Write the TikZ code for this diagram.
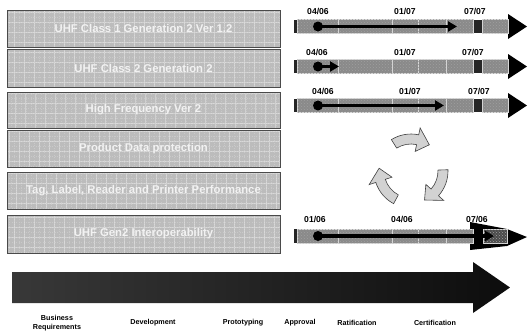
\documentclass[tikz,border=0pt]{standalone}
\usepackage{fontspec}
\setmainfont{Liberation Sans}
\usetikzlibrary{arrows.meta,patterns}
\definecolor{boxfill}{HTML}{BCBCBC}
\definecolor{boxline}{HTML}{4A4A4A}
\definecolor{boxtext}{HTML}{F2F2F2}
\definecolor{segfill}{HTML}{8A8A8A}
\definecolor{segline}{HTML}{D8D8D8}
\definecolor{bardark}{HTML}{262626}
\definecolor{cycfill}{HTML}{D2D2D2}
\tikzset{
  stdbox/.style={draw=boxline, line width=0.9pt, fill=boxfill, minimum width=273pt,
    minimum height=37pt, inner sep=0pt, text=boxtext,
    font=\fontsize{11.3}{13}\selectfont\bfseries,
    path picture={\draw[white, opacity=0.3, line width=0.5pt]
      ([shift={(-10pt,-10pt)}]path picture bounding box.south west) grid[step=10pt]
      ([shift={(10pt,10pt)}]path picture bounding box.north east);
      \draw[white, opacity=0.2, line width=0.4pt, dotted]
      ([shift={(-5pt,-5pt)}]path picture bounding box.south west) grid[step=5pt]
      ([shift={(10pt,10pt)}]path picture bounding box.north east);}},
  datelbl/.style={font=\fontsize{8.6}{10}\selectfont\bfseries, inner sep=0pt},
  steplbl/.style={font=\fontsize{7.2}{8.4}\selectfont\bfseries, inner sep=0pt, align=center},
  seg/.style={draw=segline, line width=0.6pt, fill=segfill},
  segdots/.style={pattern=crosshatch dots, pattern color=gray!75},
  dotmark/.style={circle, fill=black, minimum size=10pt, inner sep=0pt},
  progress/.style={line width=3.6pt, -{Triangle[length=9pt,width=10pt]}},
  cycarrow/.style={draw=black!75, line width=0.6pt, fill=cycfill},
}
\newcommand{\tlbar}[1]{%
  \fill[bardark] (294,#1-6.8) rectangle (509,#1+6.8);
  \fill[black] (508,#1-12.5) -- (527,#1) -- (508,#1+12.5) -- cycle;
  \foreach \a/\b in {297/338,338/392,392/418,418/446,446/473,482/508}{
    \filldraw[seg] (\a,#1-6.8) rectangle (\b,#1+6.8);
    \fill[segdots] (\a,#1-6.8) rectangle (\b,#1+6.8);
  }}
\newcommand{\cycpath}{(122:27) arc[start angle=122,end angle=78,radius=27] -- (78:20)
  -- (55:32) -- (78:44) -- (78:37) arc[start angle=78,end angle=122,radius=37] -- cycle}
\begin{document}
\begin{tikzpicture}[x=1pt,y=-1pt]
\useasboundingbox (0,0) rectangle (528,333);
% left boxes
\node[stdbox] (b1) at (143.5,28.5) {UHF Class 1 Generation 2 Ver 1.2};
\node[stdbox, minimum height=38pt] (b2) at (143.5,68) {UHF Class 2 Generation 2};
\node[stdbox, minimum height=36pt] (b3) at (143.5,110) {High Frequency Ver 2};
\node[stdbox] (b4) at (143.5,148.5) {Product Data protection};
\node[stdbox] (b5) at (143.5,190.5) {Tag, Label, Reader and Printer Performance};
\node[stdbox, minimum height=38pt] (b6) at (143.5,234) {UHF Gen2 Interoperability};
% timeline row 1
\tlbar{26.5}
\node[datelbl] (l11) at (318,11) {04/06};
\node[datelbl] (l12) at (405,11) {01/07};
\node[datelbl] (l13) at (475,11) {07/07};
\node[dotmark] (d1) at (318,26.5) {};
\coordinate (e1) at (457,26.5);
\draw[progress] (d1.center) -- (e1);
% row 2
\tlbar{66.5}
\node[datelbl] (l21) at (317,52) {04/06};
\node[datelbl] (l22) at (405,52) {01/07};
\node[datelbl] (l23) at (473,52) {07/07};
\node[dotmark] (d2) at (318,66.5) {};
\coordinate (e2) at (339,66.5);
\draw[progress] (d2.center) -- (e2);
% row 3
\tlbar{105.5}
\node[datelbl] (l31) at (323,91) {04/06};
\node[datelbl] (l32) at (410,91) {01/07};
\node[datelbl] (l33) at (479,91) {07/07};
\node[dotmark] (d3) at (318,105.5) {};
\coordinate (e3) at (444,105.5);
\draw[progress] (d3.center) -- (e3);
% row 6
\fill[bardark] (294,229) rectangle (472,243);
\fill[black] (470,222) -- (507,229) -- (527,237) -- (507,246) -- (470,250) -- cycle;
\foreach \a/\b in {297/338,338/392,392/418,418/446,446/473}{
  \filldraw[seg] (\a,229) rectangle (\b,243);
  \fill[segdots] (\a,229) rectangle (\b,243);
}
\filldraw[seg, fill opacity=0.55] (483,229) rectangle (507,243);
\fill[segdots] (483,229) rectangle (507,243);
\node[datelbl] (l61) at (315,219) {01/06};
\node[datelbl] (l62) at (402,219) {04/06};
\node[datelbl] (l63) at (477,219) {07/06};
\node[dotmark] (d6) at (318,236) {};
\coordinate (e6) at (494,236);
\draw[progress] (d6.center) -- (e6);
% cycle arrows
\begin{scope}[shift={(411,171)}, yscale=-1]
  \draw[cycarrow] \cycpath;
  \draw[cycarrow, rotate=-120] \cycpath;
  \draw[cycarrow, rotate=-240] \cycpath;
\end{scope}
% bottom arrow
\shade[left color=black!78, right color=black!95]
  (12,272) -- (473,272) -- (473,262) -- (510,287.5) -- (473,313) -- (473,303) -- (12,303) -- cycle;
\node[steplbl] (s1) at (57,323) {Business\\Requirements};
\node[steplbl] (s2) at (153,323) {Development};
\node[steplbl] (s3) at (243,323) {Prototyping};
\node[steplbl] (s4) at (300,323) {Approval};
\node[steplbl] (s5) at (357,323) {Ratification};
\node[steplbl] (s6) at (435,323) {Certification};
\end{tikzpicture}
\end{document}
